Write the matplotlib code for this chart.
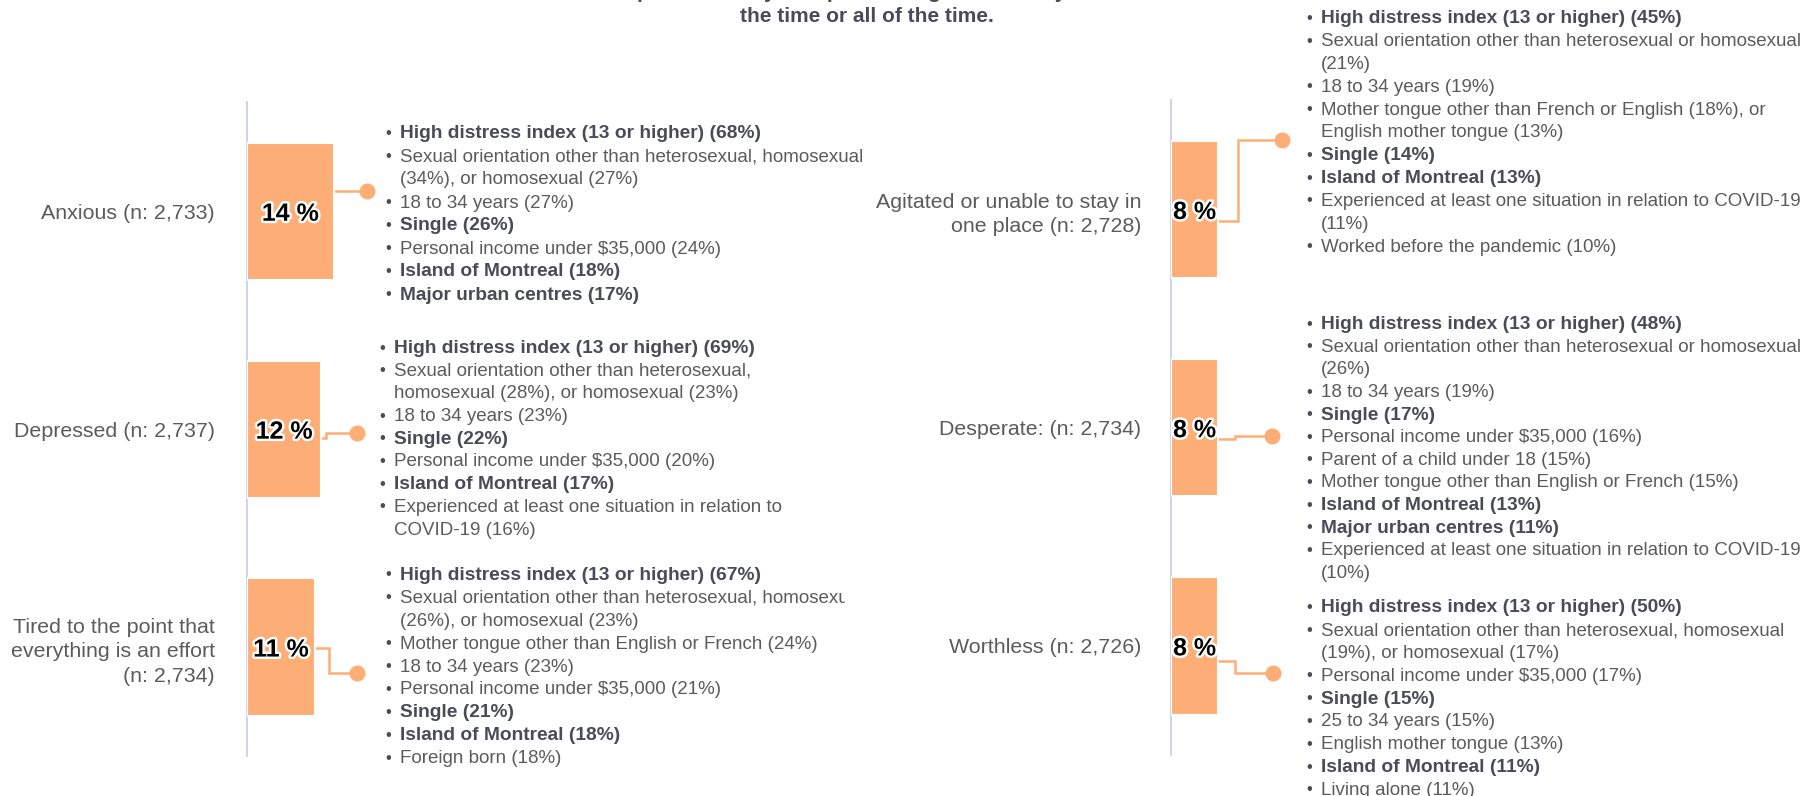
import matplotlib
matplotlib.use("Agg")
import matplotlib.pyplot as plt
import matplotlib.patheffects as pe
from matplotlib.transforms import Bbox, TransformedBbox

plt.rcParams['font.family'] = ['Liberation Sans', 'DejaVu Sans']

# ---------------- data ----------------
left_cats = ["Anxious (n: 2,733)",
             "Depressed (n: 2,737)",
             "Tired to the point that\neverything is an effort\n(n: 2,734)"]
left_vals = [14, 12, 11]

right_cats = ["Agitated or unable to stay in\none place (n: 2,728)",
              "Desperate: (n: 2,734)",
              "Worthless (n: 2,726)"]
right_vals = [8, 8, 8]

# (text, bold)
anxious_notes = [
    ("High distress index (13 or higher) (68%)", True),
    ("Sexual orientation other than heterosexual, homosexual\n(34%), or homosexual (27%)", False),
    ("18 to 34 years (27%)", False),
    ("Single (26%)", True),
    ("Personal income under $35,000 (24%)", False),
    ("Island of Montreal (18%)", True),
    ("Major urban centres (17%)", True),
]
depressed_notes = [
    ("High distress index (13 or higher) (69%)", True),
    ("Sexual orientation other than heterosexual,\nhomosexual (28%), or homosexual (23%)", False),
    ("18 to 34 years (23%)", False),
    ("Single (22%)", True),
    ("Personal income under $35,000 (20%)", False),
    ("Island of Montreal (17%)", True),
    ("Experienced at least one situation in relation to\nCOVID-19 (16%)", False),
]
tired_notes = [
    ("High distress index (13 or higher) (67%)", True),
    ("Sexual orientation other than heterosexual, homosexual\n(26%), or homosexual (23%)", False),
    ("Mother tongue other than English or French (24%)", False),
    ("18 to 34 years (23%)", False),
    ("Personal income under $35,000 (21%)", False),
    ("Single (21%)", True),
    ("Island of Montreal (18%)", True),
    ("Foreign born (18%)", False),
]
agitated_notes = [
    ("High distress index (13 or higher) (45%)", True),
    ("Sexual orientation other than heterosexual or homosexual\n(21%)", False),
    ("18 to 34 years (19%)", False),
    ("Mother tongue other than French or English (18%), or\nEnglish mother tongue (13%)", False),
    ("Single (14%)", True),
    ("Island of Montreal (13%)", True),
    ("Experienced at least one situation in relation to COVID-19\n(11%)", False),
    ("Worked before the pandemic (10%)", False),
]
desperate_notes = [
    ("High distress index (13 or higher) (48%)", True),
    ("Sexual orientation other than heterosexual or homosexual\n(26%)", False),
    ("18 to 34 years (19%)", False),
    ("Single (17%)", True),
    ("Personal income under $35,000 (16%)", False),
    ("Parent of a child under 18 (15%)", False),
    ("Mother tongue other than English or French (15%)", False),
    ("Island of Montreal (13%)", True),
    ("Major urban centres (11%)", True),
    ("Experienced at least one situation in relation to COVID-19\n(10%)", False),
]
worthless_notes = [
    ("High distress index (13 or higher) (50%)", True),
    ("Sexual orientation other than heterosexual, homosexual\n(19%), or homosexual (17%)", False),
    ("Personal income under $35,000 (17%)", False),
    ("Single (15%)", True),
    ("25 to 34 years (15%)", False),
    ("English mother tongue (13%)", False),
    ("Island of Montreal (11%)", True),
    ("Living alone (11%)", False),
]

title_lines = ["Groups most likely to report having felt this way most of",
               "the time or all of the time."]

# ---------------- style ----------------
W, H, DPI = 1802, 796, 100
BAR = '#FDAE76'
AXIS = '#C9D0E9'
TXT = '#5B5B5B'
TXT_BOLD = '#4A4C55'
FS = 13.5
FS_BOLD = 13.8
FS_CAT = 15.4

fig = plt.figure(figsize=(W / DPI, H / DPI), dpi=DPI)
fig.patch.set_facecolor('white')

# overlay in pixel coords (y down) for notes, connectors and title
ov = fig.add_axes([0, 0, 1, 1], zorder=0)
ov.set_xlim(0, W)
ov.set_ylim(H, 0)
ov.axis('off')


def px_axes(x0, width, ytop, ybot):
    return fig.add_axes([x0 / W, 1 - ybot / H, width / W, (ybot - ytop) / H], zorder=2)


def bar_panel(ax, cats, vals, pad):
    ypos = list(range(len(cats)))
    ax.barh(ypos, vals, height=0.63, color=BAR, edgecolor='white', linewidth=1.5, zorder=3)
    ax.set_xlim(0, 20)
    ax.set_ylim(len(cats) - 0.5, -0.5)
    ax.set_facecolor('none')
    for s in ['top', 'right', 'bottom']:
        ax.spines[s].set_visible(False)
    ax.spines['left'].set_color(AXIS)
    ax.spines['left'].set_linewidth(1.3)
    ax.spines['left'].set_zorder(1)
    ax.set_xticks([])
    ax.set_yticks(ypos)
    ax.set_yticklabels(cats, fontsize=FS_CAT, color=TXT)
    for t in ax.get_yticklabels():
        t.set_linespacing(1.38)
    ax.tick_params(axis='y', length=0, pad=pad)
    for y, v in zip(ypos, vals):
        ax.text(v / 2, y, f'{v} %', ha='center', va='center_baseline', fontsize=18,
                fontweight='bold', color='black', zorder=5,
                path_effects=[pe.withStroke(linewidth=3.5, foreground='white')])


def connector(ax, val, ypos, y_start, elbow_x, y_dot, dot_x):
    x_end = ax.transData.transform((val, ypos))[0]
    if elbow_x is None:
        xs, ys = [x_end, dot_x], [y_start, y_dot]
    else:
        xs = [x_end, elbow_x, elbow_x, dot_x]
        ys = [y_start, y_start, y_dot, y_dot]
    ov.plot(xs, ys, color=BAR, lw=1.8, solid_joinstyle='miter')
    ov.plot([dot_x], [y_dot], 'o', color=BAR, ms=10.5)


def notes(items, tx, y0, pitch, clip_x=None):
    y = y0
    for text, bold in items:
        ov.text(tx - 12, y, '•', ha='center', va='center_baseline', fontsize=FS - 1.5,
                color=TXT_BOLD)
        for ln in text.split('\n'):
            t = ov.text(tx, y, ln, ha='left', va='center_baseline',
                        fontsize=FS_BOLD if bold else FS,
                        fontweight='bold' if bold else 'normal',
                        color=TXT_BOLD if bold else TXT)
            if clip_x is not None:
                t.set_clip_on(True)
                t.set_clip_box(TransformedBbox(Bbox.from_extents(0, 0, clip_x / W, 1),
                                               fig.transFigure))
            y += pitch


# ---------------- panels ----------------
axL = px_axes(247, 124, 102.3, 756)
bar_panel(axL, left_cats, left_vals, pad=23)
axR = px_axes(1171, 118, 100.4, 755)
bar_panel(axR, right_cats, right_vals, pad=21.5)

connector(axL, left_vals[0], 0, 191, None, 191, 367)
connector(axL, left_vals[1], 1, 437.5, 326, 433.3, 357)
connector(axL, left_vals[2], 2, 648, 329, 673, 357)
connector(axR, right_vals[0], 0, 220.7, 1237.5, 139.5, 1282)
connector(axR, right_vals[1], 1, 439, 1235, 436, 1272)
connector(axR, right_vals[2], 2, 661, 1235, 673, 1273)

notes(anxious_notes, 400, 132, 23.0)
notes(depressed_notes, 394, 346.5, 22.7)
notes(tired_notes, 400, 573.5, 22.9, clip_x=845)
notes(agitated_notes, 1321, 16.7, 22.85)
notes(desperate_notes, 1321, 322.7, 22.6)
notes(worthless_notes, 1321, 606, 22.8)

# title (first line is cropped by the top edge, as in the source)
ov.text(867, -8, title_lines[0], ha='center', va='center', fontsize=15,
        fontweight='bold', color=TXT_BOLD)
ov.text(867, 16.5, title_lines[1], ha='center', va='center', fontsize=15,
        fontweight='bold', color=TXT_BOLD)

fig.savefig('out.png', dpi=DPI, facecolor='white')
